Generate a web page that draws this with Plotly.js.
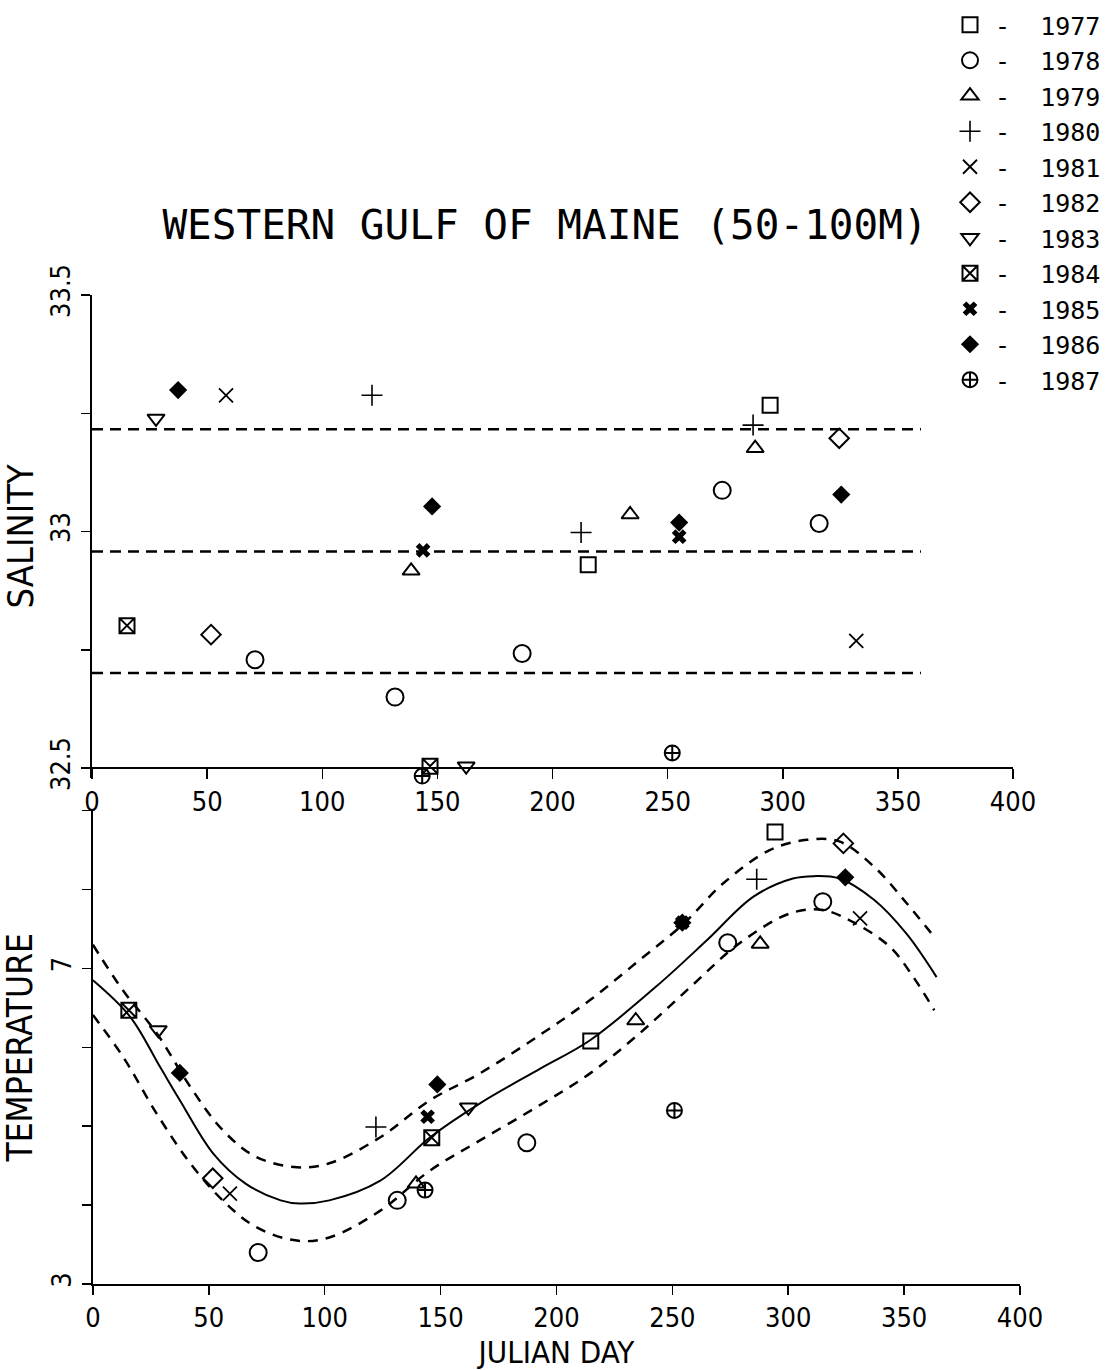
<!DOCTYPE html>
<html><head><meta charset="utf-8">
<script src="https://cdn.plot.ly/plotly-3.0.1.min.js"></script>
<style>html,body{margin:0;padding:0;background:#fff}#chart{width:1115px;height:1370px}</style>
</head><body><div id="chart"></div>
<script>
// ---- data ----
const years = ['1977','1978','1979','1980','1981','1982','1983','1984','1985','1986','1987'];

const salinityDays = [
  [294.5, 215.5],
  [70.8, 131.6, 186.8, 273.7, 315.8],
  [138.6, 233.7, 288.0],
  [121.6, 212.4, 287.1],
  [58.2, 331.9],
  [51.7, 324.5],
  [27.8, 162.5],
  [15.2, 146.8],
  [143.8, 255.0],
  [37.4, 147.7, 255.0, 325.4],
  [143.4, 252.0]
];
const salinityValues = [
  [33.267, 32.930],
  [32.729, 32.650, 32.742, 33.087, 33.017],
  [32.917, 33.036, 33.176],
  [33.288, 32.998, 33.225],
  [33.288, 32.769],
  [32.782, 33.197],
  [33.239, 32.504],
  [32.801, 32.504],
  [32.960, 32.989],
  [33.299, 33.053, 33.019, 33.078],
  [32.483, 32.532]
];

const temperatureDays = [
  [294.3, 214.8],
  [71.3, 131.3, 187.2, 273.9, 314.9],
  [139.4, 234.2, 287.9],
  [122.1, 286.4],
  [59.1, 331.0],
  [51.7, 323.8],
  [28.2, 162.0],
  [15.5, 146.2],
  [144.4, 254.3],
  [37.5, 148.6, 254.3, 324.6],
  [143.3, 250.9]
];
const temperatureValues = [
  [8.73, 6.08],
  [3.40, 4.06, 4.79, 7.325, 7.845],
  [4.27, 6.34, 7.31],
  [4.99, 8.13],
  [4.145, 7.635],
  [4.34, 8.585],
  [6.22, 5.24],
  [6.47, 4.855],
  [5.12, 7.58],
  [5.675, 5.53, 7.58, 8.155],
  [4.19, 5.20]
];

// salinity reference lines (mean and band)
const salLineDays = [0, 360];
const salUpper = [33.216, 33.216];
const salMean = [32.958, 32.958];
const salLower = [32.701, 32.701];

// temperature fitted curve and band
const fitDays = [0, 16, 29, 37.5, 52, 66, 81, 89, 102, 124, 145.5, 167, 193, 214.5, 243, 265, 285, 302, 311, 322, 337, 351, 364];
const fitTemp = [6.85, 6.39, 5.75, 5.33, 4.65, 4.27, 4.06, 4.02, 4.06, 4.31, 4.86, 5.29, 5.73, 6.09, 6.77, 7.36, 7.91, 8.14, 8.17, 8.14, 7.87, 7.44, 6.89];
const upperDays = [0, 13, 27.5, 42, 56, 70.5, 88, 102, 124, 145.5, 167, 193, 214.5, 236, 255, 272, 292, 308, 322, 337, 351, 363];
const upperTemp = [7.30, 6.72, 6.18, 5.50, 4.95, 4.61, 4.48, 4.53, 4.86, 5.33, 5.67, 6.16, 6.60, 7.11, 7.57, 8.08, 8.50, 8.63, 8.61, 8.29, 7.83, 7.40];
const lowerDays = [0, 13, 27.5, 42, 56, 70.5, 88, 102, 124, 145.5, 167, 193, 214.5, 236, 258, 279, 301, 315, 329, 344, 354, 363];
const lowerTemp = [6.41, 5.88, 5.16, 4.53, 4.06, 3.72, 3.55, 3.59, 3.93, 4.44, 4.82, 5.27, 5.67, 6.18, 6.77, 7.32, 7.70, 7.74, 7.57, 7.27, 6.89, 6.47];

const salTickVals = [32.5, 32.75, 33, 33.25, 33.5];
const salTickText = ['32.5', '', '33', '', '33.5'];
const tempTickVals = [3, 4, 5, 6, 7, 8, 9];
const tempTickText = ['3', '', '', '', '7', '', ''];

// ---- styles ----
const symbols = ['square-open','circle-open','triangle-up-open','cross-thin-open','x-thin-open','diamond-open','triangle-down-open','square-x-open','x','diamond','circle-cross-open'];
const sizes   = [15, 17, 15, 15, 14, 15, 15, 15, 13, 14, 15];
const lineW   = [2, 2, 2, 1.6, 1.8, 2, 2, 2, 0, 0, 2];

const axisFont = 'DejaVu Sans Condensed, DejaVu Sans, sans-serif';
const monoFont = 'DejaVu Sans Mono, monospace';

const traces = [];
years.forEach((yr, i) => {
  const mk = {symbol: symbols[i], size: sizes[i], color: '#000', line: {color: '#000', width: lineW[i]}};
  traces.push({type: 'scatter', mode: 'markers', name: '-\u00a0\u00a0' + yr, x: salinityDays[i], y: salinityValues[i],
    xaxis: 'x', yaxis: 'y', marker: mk, cliponaxis: false, showlegend: true});
});
years.forEach((yr, i) => {
  const mk = {symbol: symbols[i], size: sizes[i], color: '#000', line: {color: '#000', width: lineW[i]}};
  traces.push({type: 'scatter', mode: 'markers', name: yr, x: temperatureDays[i], y: temperatureValues[i],
    xaxis: 'x2', yaxis: 'y2', marker: mk, cliponaxis: false, showlegend: false});
});
[salUpper, salMean, salLower].forEach(v => {
  traces.push({type: 'scatter', mode: 'lines', x: salLineDays, y: v, xaxis: 'x', yaxis: 'y',
    line: {color: '#000', width: 2.5, dash: '11px,7px'}, showlegend: false, hoverinfo: 'skip'});
});
traces.push({type: 'scatter', mode: 'lines', x: fitDays, y: fitTemp, xaxis: 'x2', yaxis: 'y2',
  line: {color: '#000', width: 2, shape: 'spline', smoothing: 1}, showlegend: false});
traces.push({type: 'scatter', mode: 'lines', x: upperDays, y: upperTemp, xaxis: 'x2', yaxis: 'y2',
  line: {color: '#000', width: 2.5, shape: 'spline', smoothing: 1, dash: '10px,8px'}, showlegend: false});
traces.push({type: 'scatter', mode: 'lines', x: lowerDays, y: lowerTemp, xaxis: 'x2', yaxis: 'y2',
  line: {color: '#000', width: 2.5, shape: 'spline', smoothing: 1, dash: '10px,8px'}, showlegend: false});

const commonAxis = {showline: true, linewidth: 2, linecolor: '#000', showgrid: false, zeroline: false,
  ticks: 'outside', tickwidth: 1.5, tickcolor: '#000', tickfont: {family: axisFont, size: 27, color: '#000'}};

// plot area: top 295 px, bottom 1284 px (989 px tall), left 92, right 1020
const layout = {
  width: 1115, height: 1370,
  margin: {l: 92, r: 95, t: 295, b: 86, autoexpand: false},
  paper_bgcolor: '#fff', plot_bgcolor: '#fff',
  font: {family: axisFont, color: '#000'},
  title: {text: 'WESTERN GULF OF MAINE (50-100M)', xref: 'container', x: 545/1115, xanchor: 'center',
    yref: 'container', y: 1 - 225/1370, yanchor: 'middle',
    font: {family: monoFont, size: 41, color: '#000'}},
  xaxis: Object.assign({}, commonAxis, {domain: [0, 0.9925], anchor: 'free', position: (1284 - 768) / 989,
    range: [0, 400], tick0: 0, dtick: 50, ticklen: 10}),
  yaxis: Object.assign({}, commonAxis, {domain: [(1284 - 777.5) / 989, 1], anchor: 'x', range: [32.48, 33.5],
    tickmode: 'array', tickvals: salTickVals, ticktext: salTickText, tickangle: -90, ticklen: 9,
    title: {text: 'SALINITY', standoff: 14, font: {family: axisFont, size: 36, color: '#000'}}}),
  xaxis2: Object.assign({}, commonAxis, {domain: [0.001, 1], anchor: 'y2', range: [0, 400], tick0: 0, dtick: 50, ticklen: 9,
    title: {text: 'JULIAN DAY', standoff: 12, font: {family: axisFont, size: 31, color: '#000'}}}),
  yaxis2: Object.assign({}, commonAxis, {domain: [0, 0.4786], anchor: 'x2', range: [3, 9],
    tickmode: 'array', tickvals: tempTickVals, ticktext: tempTickText, tickangle: -90, ticklen: 9,
    title: {text: 'TEMPERATURE', standoff: 14, font: {family: axisFont, size: 35, color: '#000'}}}),
  showlegend: true,
  legend: {x: (945 - 92) / 928, y: (1284 - 2) / 989, xanchor: 'left', yanchor: 'top',
    font: {family: monoFont, size: 25, color: '#000'}, bgcolor: 'rgba(0,0,0,0)', itemwidth: 40, tracegroupgap: 0}
};

Plotly.newPlot('chart', traces, layout, {displayModeBar: false, staticPlot: true});
</script></body></html>
